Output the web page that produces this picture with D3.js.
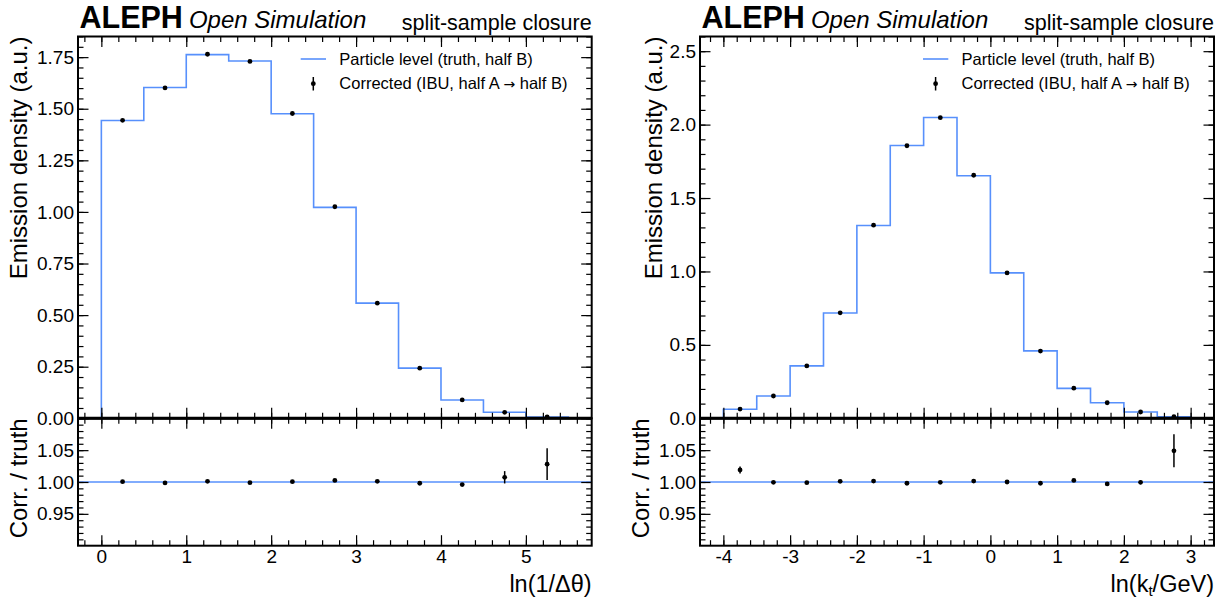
<!DOCTYPE html>
<html>
<head>
<meta charset="utf-8">
<script src="https://cdn.jsdelivr.net/npm/d3@7"></script>
<style>
  body { margin: 0; background: #fff; }
  svg { display: block; font-family: "Liberation Sans", Arial, sans-serif; }
</style>
</head>
<body>
<svg id="chart" width="1229" height="598"></svg>
<script>
///////// Data

// ln(1/dtheta) panel
var edgesTheta = [0, 0.5, 1, 1.5, 2, 2.5, 3, 3.5, 4, 4.5, 5, 5.5]
var truthTheta = [1.443, 1.603, 1.762, 1.731, 1.476, 1.022, 0.558, 0.243, 0.089, 0.029, 0.006]
var corrTheta  = [1.444, 1.601, 1.764, 1.729, 1.477, 1.025, 0.558, 0.243, 0.089, 0.029, 0.007]
var ratioTheta = [1.0005, 0.9985, 1.001, 0.999, 1.0005, 1.0025, 1.001, 0.998, 0.996, 1.0074, 1.028]
var ratioErrTheta = [0.0008, 0.0008, 0.0008, 0.0008, 0.0008, 0.001, 0.001, 0.0012, 0.0018, 0.0097, 0.025]
var xTicksTheta = [0, 1, 2, 3, 4, 5]
var yTicksTheta = [0, 0.25, 0.5, 0.75, 1.0, 1.25, 1.5, 1.75]

// ln(kt/GeV) panel
var edgesKt = [-4, -3.5, -3, -2.5, -2, -1.5, -1, -0.5, 0, 0.5, 1, 1.5, 2, 2.5, 3]
var truthKt = [0.062, 0.152, 0.357, 0.717, 1.313, 1.858, 2.048, 1.652, 0.990, 0.459, 0.204, 0.106, 0.043, 0.010]
var corrKt  = [0.063, 0.152, 0.357, 0.718, 1.315, 1.856, 2.047, 1.655, 0.990, 0.458, 0.205, 0.106, 0.043, 0.011]
var ratioKt = [1.019, 0.9995, 0.999, 1.001, 1.0015, 0.998, 0.9995, 1.0015, 1.0, 0.998, 1.0025, 0.997, 0.9995, 1.049]
var ratioErrKt = [0.0055, 0.0008, 0.0008, 0.0008, 0.0008, 0.0008, 0.0008, 0.0008, 0.0008, 0.001, 0.0012, 0.0015, 0.003, 0.026]
var xTicksKt = [-4, -3, -2, -1, 0, 1, 2, 3]
var yTicksKt = [0, 0.5, 1.0, 1.5, 2.0, 2.5]

var ratioTicks = [0.95, 1.0, 1.05]
var legendLabels = ["Particle level (truth, half B)", "Corrected (IBU, half A \u2192 half B)"]

var BLUE = "#5790fc"
var svg = d3.select("#chart")

var top0 = 36.5, mainBottom = 418.3, ratioBottom = 545.7

///////// Draws inward ticks on all four sides of a box
function boxAxes(g, xs, ys, xMajor, xMinor, yMajor, yMinor, showX, yFmt, y0, y1) {
    var x0 = xs.range()[0], x1 = xs.range()[1]
    function style(sel) {
        sel.select(".domain").remove()
        sel.selectAll("line").attr("stroke", "black").attr("stroke-width", 1.2)
        sel.selectAll("text").attr("font-size", 19).attr("fill", "black")
            .attr("font-family", "Liberation Sans, Arial, sans-serif")
    }
    // bottom
    g.append("g").attr("transform", "translate(0," + y1 + ")")
        .call(d3.axisBottom(xs).tickValues(xMajor).tickSize(-10.5).tickPadding(4)
            .tickFormat(showX ? function (d) { return String(d) } : ""))
        .call(style)
    g.append("g").attr("transform", "translate(0," + y1 + ")")
        .call(d3.axisBottom(xs).tickValues(xMinor).tickSize(-5.5).tickFormat("")).call(style)
    // top
    g.append("g").attr("transform", "translate(0," + y0 + ")")
        .call(d3.axisTop(xs).tickValues(xMajor).tickSize(-10.5).tickFormat("")).call(style)
    g.append("g").attr("transform", "translate(0," + y0 + ")")
        .call(d3.axisTop(xs).tickValues(xMinor).tickSize(-5.5).tickFormat("")).call(style)
    // left
    g.append("g").attr("transform", "translate(" + x0 + ",0)")
        .call(d3.axisLeft(ys).tickValues(yMajor).tickSize(-10.5).tickPadding(4).tickFormat(yFmt)).call(style)
    g.append("g").attr("transform", "translate(" + x0 + ",0)")
        .call(d3.axisLeft(ys).tickValues(yMinor).tickSize(-5.5).tickFormat("")).call(style)
    // right
    g.append("g").attr("transform", "translate(" + x1 + ",0)")
        .call(d3.axisRight(ys).tickValues(yMajor).tickSize(-10.5).tickFormat("")).call(style)
    g.append("g").attr("transform", "translate(" + x1 + ",0)")
        .call(d3.axisRight(ys).tickValues(yMinor).tickSize(-5.5).tickFormat("")).call(style)

    g.append("rect").attr("x", x0).attr("y", y0).attr("width", x1 - x0).attr("height", y1 - y0)
        .attr("fill", "none").attr("stroke", "black").attr("stroke-width", 2)
}

function steps(lo, hi, stepSize) {
    var out = []
    var n = Math.round((hi - lo) / stepSize)
    for (var i = 0; i <= n; i++) out.push(+(lo + i * stepSize).toFixed(4))
    return out
}

///////// One panel: main distribution + ratio
function drawPanel(cfg) {
    var g = svg.append("g")
    var x = d3.scaleLinear().domain(cfg.xDomain).range([cfg.left, cfg.right])
    var y = d3.scaleLinear().domain([0, cfg.yMax]).range([mainBottom, top0])
    var yr = d3.scaleLinear().domain([0.9, 1.1]).range([ratioBottom, mainBottom])

    var xMinor = steps(Math.ceil(cfg.xDomain[0] / 0.2) * 0.2, Math.floor(cfg.xDomain[1] / 0.2) * 0.2, 0.2)
    var yMinor = steps(0, cfg.yMax, cfg.yMinorStep)
    var rMinor = steps(0.91, 1.09, 0.01)

    var edges = cfg.edges
    var centers = d3.range(edges.length - 1).map(function (i) { return (edges[i] + edges[i + 1]) / 2 })

    // truth histogram outline
    var pts = [[edges[0], 0]]
    cfg.truth.forEach(function (v, i) { pts.push([edges[i], v]); pts.push([edges[i + 1], v]) })
    pts.push([edges[edges.length - 1], 0])
    var line = d3.line().x(function (d) { return x(d[0]) }).y(function (d) { return y(d[1]) })
    g.append("path").attr("d", line(pts)).attr("fill", "none")
        .attr("stroke", BLUE).attr("stroke-width", 1.6)

    // corrected points
    g.selectAll(".pt").data(cfg.corr).enter().append("circle")
        .attr("cx", function (d, i) { return x(centers[i]) })
        .attr("cy", function (d) { return y(d) })
        .attr("r", 2.4).attr("fill", "black")

    // ratio reference line
    g.append("line").attr("x1", cfg.left).attr("x2", cfg.right)
        .attr("y1", yr(1)).attr("y2", yr(1)).attr("stroke", BLUE).attr("stroke-width", 1.5)

    // ratio error bars and points
    g.selectAll(".rerr").data(cfg.ratio).enter().append("line")
        .attr("x1", function (d, i) { return x(centers[i]) })
        .attr("x2", function (d, i) { return x(centers[i]) })
        .attr("y1", function (d, i) { return yr(d - cfg.ratioErr[i]) })
        .attr("y2", function (d, i) { return yr(d + cfg.ratioErr[i]) })
        .attr("stroke", "black").attr("stroke-width", 1.5)
    g.selectAll(".rpt").data(cfg.ratio).enter().append("circle")
        .attr("cx", function (d, i) { return x(centers[i]) })
        .attr("cy", function (d) { return yr(d) })
        .attr("r", 2.4).attr("fill", "black")

    boxAxes(g, x, y, cfg.xTicks, xMinor, cfg.yTicks, yMinor, false, d3.format(cfg.yFmt), top0, mainBottom)
    boxAxes(g, x, yr, cfg.xTicks, xMinor, ratioTicks, rMinor, true, d3.format(".2f"), mainBottom, ratioBottom)
    g.append("line").attr("x1", cfg.left).attr("x2", cfg.right)
        .attr("y1", mainBottom).attr("y2", mainBottom).attr("stroke", "black").attr("stroke-width", 3)

    // axis labels
    g.append("text").attr("transform", "translate(" + (cfg.left - cfg.yLabOff) + "," + top0 + ") rotate(-90)")
        .attr("text-anchor", "end").attr("font-size", 24).text("Emission density (a.u.)")
    g.append("text").attr("transform", "translate(" + (cfg.left - cfg.rLabOff) + "," + mainBottom + ") rotate(-90)")
        .attr("text-anchor", "end").attr("font-size", 24).text("Corr. / truth")
    var xl = g.append("text").attr("x", cfg.right).attr("y", 592).attr("text-anchor", "end").attr("font-size", 23.5)
    cfg.xLabel(xl)

    // header
    var al = g.append("text").attr("x", cfg.left + 1.5).attr("y", 28)
        .attr("font-size", 30.5).attr("font-weight", "bold").text("ALEPH")
    var w = al.node().getComputedTextLength()
    g.append("text").attr("x", cfg.left + 1.5 + w + 6).attr("y", 28)
        .attr("font-size", 24).attr("font-style", "italic").text("Open Simulation")
    g.append("text").attr("x", cfg.right).attr("y", 30).attr("text-anchor", "end")
        .attr("font-size", 21.5).text("split-sample closure")

    // legend
    var lx = cfg.right - 291
    g.append("line").attr("x1", lx).attr("x2", lx + 25.3).attr("y1", 59).attr("y2", 59)
        .attr("stroke", BLUE).attr("stroke-width", 1.6)
    g.append("line").attr("x1", lx + 12.6).attr("x2", lx + 12.6).attr("y1", 77).attr("y2", 90.5)
        .attr("stroke", "black").attr("stroke-width", 1.5)
    g.append("circle").attr("cx", lx + 12.6).attr("cy", 83.7).attr("r", 2.4).attr("fill", "black")
    legendLabels.forEach(function (t, i) {
        var parts = t.split("\u2192")
        var tx = g.append("text").attr("x", lx + 38.6).attr("y", 59 + i * 24.7).attr("dy", "0.35em")
            .attr("font-size", 16.5)
        tx.append("tspan").text(parts[0])
        if (parts.length > 1) {
            tx.append("tspan").attr("font-family", "DejaVu Sans").attr("font-size", 14).text("\u2192")
            tx.append("tspan").text(parts[1])
        }
    })
}

drawPanel({
    left: 78, right: 591.7, xDomain: [-0.275, 5.775], yMax: 1.85, yMinorStep: 0.05,
    edges: edgesTheta, truth: truthTheta, corr: corrTheta, ratio: ratioTheta, ratioErr: ratioErrTheta,
    xTicks: xTicksTheta, yTicks: yTicksTheta, yFmt: ".2f", yLabOff: 51, rLabOff: 51,
    xLabel: function (t) { t.text("ln(1/\u0394\u03b8)") }
})

drawPanel({
    left: 700, right: 1214, xDomain: [-4.35, 3.35], yMax: 2.6, yMinorStep: 0.1,
    edges: edgesKt, truth: truthKt, corr: corrKt, ratio: ratioKt, ratioErr: ratioErrKt,
    xTicks: xTicksKt, yTicks: yTicksKt, yFmt: ".1f", yLabOff: 38, rLabOff: 51,
    xLabel: function (t) {
        t.append("tspan").text("ln(k")
        t.append("tspan").attr("font-size", 15).attr("dy", 4).text("t")
        t.append("tspan").attr("dy", -4).text("/GeV)")
    }
})
</script>
</body>
</html>
